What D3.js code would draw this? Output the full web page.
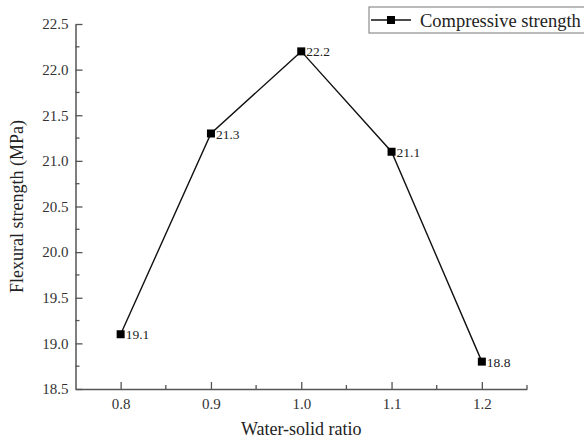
<!DOCTYPE html>
<html>
<head>
<meta charset="utf-8">
<script src="https://cdn.jsdelivr.net/npm/d3@7"></script>
<style>
  html, body { margin: 0; padding: 0; background: #fff; }
</style>
</head>
<body>
<div id="chart"></div>
<script>
// data
const ratios = [0.8, 0.9, 1.0, 1.1, 1.2];
const strength = [19.1, 21.3, 22.2, 21.1, 18.8];
const xTicks = [0.8, 0.9, 1.0, 1.1, 1.2];
const yTicks = [18.5, 19.0, 19.5, 20.0, 20.5, 21.0, 21.5, 22.0, 22.5];
const seriesName = "Compressive strength";

const W = 584, H = 441;
const margin = { left: 75.5, right: 57, top: 24, bottom: 52 };
const serif = "'Liberation Serif', 'Times New Roman', serif";

const svg = d3.select("#chart").append("svg")
    .attr("width", W).attr("height", H)
    .attr("font-family", serif);

const x = d3.scaleLinear().domain([0.75, 1.25]).range([margin.left, W - margin.right]);
const y = d3.scaleLinear().domain([18.5, 22.5]).range([H - margin.bottom, margin.top]);

const axisColor = "#555";

// X axis (ticks point inward)
const gx = svg.append("g").attr("transform", `translate(0,${H - margin.bottom})`);
gx.call(d3.axisBottom(x).tickValues(xTicks).tickSizeInner(-7).tickSizeOuter(0).tickPadding(9)
    .tickFormat(d3.format(".1f")));
gx.append("g").selectAll("line").data([0.85, 0.95, 1.05, 1.15, 1.25]).join("line")
    .attr("x1", d => x(d)).attr("x2", d => x(d)).attr("y1", 0).attr("y2", -4)
    .attr("stroke", axisColor).attr("stroke-width", 1.3);

// Y axis
const gy = svg.append("g").attr("transform", `translate(${margin.left},0)`);
gy.call(d3.axisLeft(y).tickValues(yTicks).tickSizeInner(-7).tickSizeOuter(0).tickPadding(7)
    .tickFormat(d3.format(".1f")));
gy.append("g").selectAll("line").data(d3.range(18.75, 22.5, 0.5)).join("line")
    .attr("x1", 0).attr("x2", 4).attr("y1", d => y(d)).attr("y2", d => y(d))
    .attr("stroke", axisColor).attr("stroke-width", 1.3);

[gx, gy].forEach(g => {
    g.attr("font-family", serif);
    g.select(".domain").attr("stroke", axisColor).attr("stroke-width", 1.5);
    g.selectAll(".tick line").attr("stroke", axisColor).attr("stroke-width", 1.3);
    g.selectAll(".tick text").attr("font-size", "15px").attr("fill", "#333")
        .style("font-family", serif);
});

// Axis titles
svg.append("text")
    .attr("x", x(1.0)).attr("y", 435)
    .attr("text-anchor", "middle").attr("font-size", "18px").attr("fill", "#222")
    .text("Water-solid ratio");
svg.append("text")
    .attr("transform", `translate(23,${y(20.5)}) rotate(-90)`)
    .attr("text-anchor", "middle").attr("font-size", "18px").attr("fill", "#222")
    .text("Flexural strength (MPa)");

// Line + markers
const pts = ratios.map((r, i) => [r, strength[i]]);
svg.append("path").datum(pts)
    .attr("fill", "none").attr("stroke", "#111").attr("stroke-width", 1.4)
    .attr("d", d3.line().x(d => x(d[0])).y(d => y(d[1])));

svg.append("g").selectAll("rect").data(pts).join("rect")
    .attr("x", d => x(d[0]) - 4).attr("y", d => y(d[1]) - 4)
    .attr("width", 8).attr("height", 8).attr("fill", "#000");

svg.append("g").selectAll("text").data(pts).join("text")
    .attr("x", d => x(d[0]) + 5).attr("y", d => y(d[1]) + 5)
    .attr("font-size", "13.5px").attr("fill", "#222")
    .style("font-family", serif)
    .text(d => d[1].toFixed(1));

// Legend
const lg = svg.append("g").attr("transform", "translate(369,7)");
lg.append("rect").attr("x", 0).attr("y", 0).attr("width", 230).attr("height", 26)
    .attr("fill", "#fff").attr("stroke", "#777").attr("stroke-width", 1);
lg.append("line").attr("x1", 2).attr("x2", 42).attr("y1", 13).attr("y2", 13)
    .attr("stroke", "#111").attr("stroke-width", 1.4);
lg.append("rect").attr("x", 18).attr("y", 9).attr("width", 8).attr("height", 8).attr("fill", "#000");
lg.append("text").attr("x", 51).attr("y", 19.5).attr("font-size", "18.5px").attr("fill", "#222")
    .text(seriesName);
</script>
</body>
</html>
